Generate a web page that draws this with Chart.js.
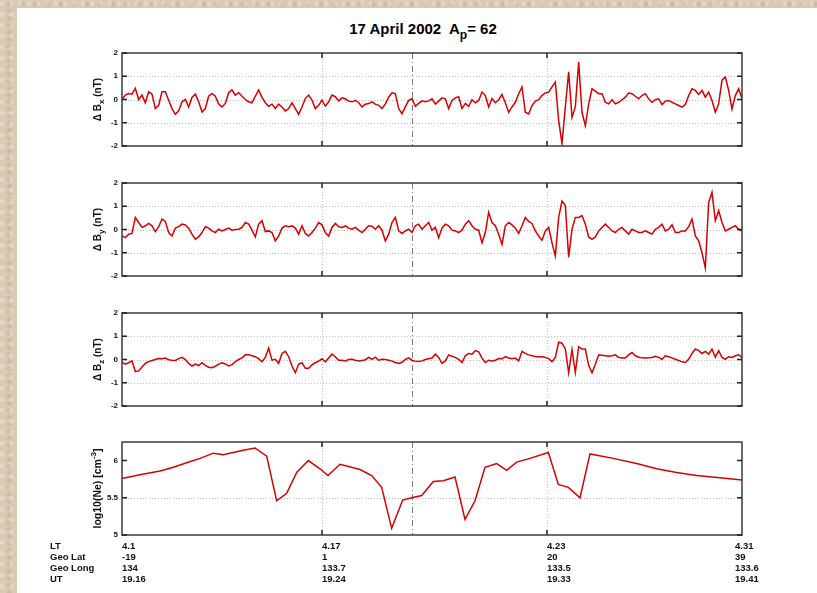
<!DOCTYPE html>
<html lang="en">
<head>
    <meta charset="UTF-8">
    <title>17 April 2002</title>
    <script src="https://cdn.jsdelivr.net/npm/chart.js@4.4.0/dist/chart.umd.min.js"></script>
    <style>
        body {
            margin: 0;
            width: 817px;
            height: 593px;
            overflow: hidden;
            position: relative;
            background-color: #d9cbb3;
            background-image:
                radial-gradient(circle at 20% 30%, rgba(255,255,255,0.25) 0 2px, transparent 3px),
                radial-gradient(circle at 70% 60%, rgba(120,100,70,0.15) 0 2px, transparent 3px);
            background-size: 9px 11px, 13px 7px;
        }
        .page {
            position: absolute;
            left: 17px;
            top: 8px;
            width: 800px;
            height: 585px;
            background: #fff;
        }
        .title {
            position: absolute;
            left: 113px;
            width: 620px;
            top: 20px;
            text-align: center;
            font: bold 15px "Liberation Sans", Arial, sans-serif;
            white-space: pre;
            color: #000;
        }
        .title sub {
            font-size: 12px;
            vertical-align: -5px;
            line-height: 0;
        }
        canvas {
            position: absolute;
            left: 0;
        }
    </style>
</head>

<body>
    <div class="page"></div>
    <div class="title">17 April 2002  A<sub>p</sub>= 62</div>
    <canvas id="cBx" width="817" height="113" style="top:43px"></canvas>
    <canvas id="cBy" width="817" height="113" style="top:173px"></canvas>
    <canvas id="cBz" width="817" height="113" style="top:303px"></canvas>
    <canvas id="cNe" width="817" height="161" style="top:432px"></canvas>
    <script>
        // x axis = sample number along the pass (0 .. 186)
        const tickIdx = [0, 60, 127.5, 186];
        const markIdx = 87; // dash-dot line between 4.17 and 4.23
        const ltLabels = ['4.1', '4.17', '4.23', '4.31'];
        const latLabels = ['-19', '1', '20', '39'];
        const longLabels = ['134', '133.7', '133.5', '133.6'];
        const utLabels = ['19.16', '19.24', '19.33', '19.41'];
        const rowNames = ['LT', 'Geo Lat', 'Geo Long', 'UT'];

        const bTicks = [-2, -1, 0, 1, 2];
        const neTicks = [5, 5.5, 6];

        // delta Bx (nT)
        const bx = [
            0.0, 0.19, 0.26, 0.23, 0.48, 0.0, 0.19, -0.14, 0.33, 0.23,
            -0.39, -0.25, 0.33, 0.33, -0.03, -0.39, -0.64, -0.49, -0.1, 0.0,
            -0.32, 0.09, 0.23, -0.1, -0.54, -0.39, 0.14, 0.26, 0.14, -0.2,
            -0.32, -0.17, 0.29, 0.41, 0.19, 0.29, 0.14, 0.0, -0.1, -0.14,
            0.14, 0.41, 0.09, -0.14, -0.29, -0.2, -0.39, -0.2, -0.32, -0.49,
            -0.39, -0.14, -0.39, -0.64, -0.32, 0.04, 0.19, -0.03, -0.39, -0.25,
            -0.03, -0.29, -0.1, 0.19, 0.12, -0.06, 0.07, 0.03, -0.07, -0.1,
            -0.04, -0.14, -0.32, -0.2, -0.17, -0.1, -0.2, -0.25, -0.39, -0.19,
            0.1, 0.29, 0.25, -0.39, -0.61, -0.32, -0.04, 0.03, -0.29, -0.17,
            -0.06, -0.1, -0.06, 0.03, -0.2, -0.07, 0.07, 0.03, -0.39, -0.04,
            0.07, 0.12, -0.39, -0.17, -0.29, -0.01, -0.14, -0.04, 0.32, 0.17,
            -0.32, 0.04, -0.14, -0.01, 0.22, -0.14, -0.55, -0.32, -0.12, 0.25,
            0.54, -0.55, -0.62, -0.26, -0.07, -0.01, 0.17, 0.28, 0.32, 0.54,
            0.75, -0.91, -1.9, -0.32, 1.19, -0.77, -0.32, 1.62, -0.55, -1.13,
            -0.19, 0.46, 0.36, 0.25, 0.25, -0.12, -0.19, -0.01, -0.19, -0.12,
            -0.01, 0.1, 0.28, 0.25, 0.14, 0.03, 0.17, 0.25, 0.03, -0.12,
            -0.01, 0.03, -0.22, -0.07, -0.04, -0.12, -0.19, -0.26, -0.33, -0.22,
            0.17, 0.46, 0.39, 0.22, 0.39, 0.1, 0.32, -0.04, -0.55, -0.19,
            0.83, 0.97, 0.39, -0.41, 0.17, 0.46, 0.03
        ];

        // delta By (nT)
        const by = [
            -0.28, -0.35, -0.2, -0.17, 0.52, 0.3, 0.09, 0.16, 0.26, 0.16,
            -0.09, 0.12, 0.45, 0.35, -0.13, -0.28, 0.06, 0.12, 0.23, 0.2,
            0.06, -0.2, -0.42, -0.32, -0.13, 0.12, 0.06, -0.06, -0.13, 0.01,
            -0.06, 0.0, 0.06, -0.03, 0.0, 0.01, 0.09, 0.3, 0.23, -0.03,
            -0.32, 0.23, 0.38, -0.09, -0.06, -0.13, -0.49, -0.28, 0.06, 0.16,
            0.12, 0.16, 0.06, -0.2, 0.16, -0.17, -0.28, -0.13, 0.06, 0.3,
            0.2, -0.13, -0.28, 0.09, 0.26, 0.12, 0.09, 0.16, 0.06, 0.01,
            0.09, -0.03, -0.13, 0.01, 0.16, 0.14, 0.01, 0.16, -0.03, -0.49,
            -0.2, 0.3, 0.52, -0.06, -0.17, -0.06, 0.01, -0.13, 0.16, 0.23,
            0.01, 0.16, 0.3, -0.03, 0.09, -0.35, 0.06, 0.23, 0.16, -0.03,
            -0.06, -0.13, -0.03, 0.23, 0.38, 0.16, 0.01, -0.03, -0.57, -0.13,
            0.74, 0.3, 0.16, -0.2, -0.64, 0.16, 0.3, 0.2, 0.06, -0.17,
            0.16, 0.52, 0.35, 0.26, -0.06, -0.28, -0.46, -0.06, 0.09, -0.57,
            -1.14, 0.52, 1.22, 1.03, -1.2, 0.01, 0.52, 0.52, 0.6, 0.23,
            -0.32, -0.42, -0.32, -0.06, 0.09, 0.23, 0.09, -0.06, -0.13, 0.01,
            0.09, -0.06, -0.2, 0.01, -0.06, -0.13, -0.13, -0.06, -0.13, -0.2,
            0.01, 0.09, 0.23, -0.06, 0.01, 0.2, -0.13, -0.13, -0.06, -0.06,
            0.12, 0.45, -0.28, -0.49, -1.0, -1.65, 1.17, 1.6, 0.38, 0.81,
            0.3, -0.06, 0.01, 0.09, 0.16, 0.01, -0.06
        ];

        // delta Bz (nT)
        const bz = [
            -0.13, -0.2, -0.14, -0.06, -0.52, -0.49, -0.32, -0.17, -0.09, -0.04,
            0.0, 0.04, 0.03, 0.06, -0.01, -0.03, -0.04, 0.04, 0.09, 0.0,
            -0.17, -0.28, -0.2, -0.26, -0.14, -0.25, -0.33, -0.35, -0.29, -0.2,
            -0.14, -0.19, -0.28, -0.22, -0.09, 0.0, 0.07, 0.2, 0.2, 0.16,
            0.12, 0.03, -0.09, 0.09, 0.49, -0.03, 0.01, -0.17, 0.26, 0.35,
            0.12, -0.28, -0.57, -0.2, -0.14, -0.38, -0.38, -0.23, -0.14, -0.07,
            0.03, -0.1, 0.06, 0.23, 0.12, -0.03, -0.03, -0.06, 0.0, 0.01,
            -0.03, -0.06, -0.04, -0.01, 0.09, 0.01, 0.1, -0.03, 0.01, 0.0,
            -0.03, -0.07, -0.13, -0.17, -0.12, 0.0, 0.07, -0.03, -0.07, -0.09,
            -0.06, 0.0, 0.03, 0.06, 0.23, 0.09, -0.17, -0.06, 0.2, 0.14,
            0.09, 0.01, -0.13, 0.16, 0.26, 0.23, 0.38, 0.33, 0.06, -0.13,
            -0.03, -0.06, -0.03, 0.04, 0.03, 0.12, 0.06, 0.03, 0.06, -0.06,
            0.35, 0.26, 0.2, 0.16, 0.13, 0.12, 0.12, 0.09, 0.04, -0.09,
            0.09, 0.74, 0.7, 0.45, -0.57, 0.42, -0.55, 0.55, 0.45, 0.45,
            -0.25, -0.57, -0.2, 0.2, 0.18, 0.16, 0.14, 0.16, 0.2, 0.09,
            0.06, 0.06, 0.2, 0.3, 0.16, 0.1, 0.07, 0.06, 0.07, 0.09,
            0.14, 0.09, 0.01, 0.16, 0.12, 0.07, 0.01, -0.04, -0.1, -0.13,
            0.01, 0.26, 0.45, 0.38, 0.26, 0.35, 0.23, 0.45, 0.1, 0.38,
            0.09, 0.01, 0.12, 0.09, 0.16, 0.2, 0.09
        ];

        // log10(Ne) samples (coarser, with their own positions)
        const neIdx = [
            0, 5.4, 11.4, 15.4, 19.4, 23.4, 27.4, 30.4, 33.4, 36.4,
            39.9, 43.4, 46.4, 49.4, 52.4, 55.9, 59.4, 61.8, 65.4, 71.4,
            74.9, 77.9, 80.9, 84.2, 86.9, 89.9, 93.4, 96.4, 99.9, 102.9,
            105.9, 108.9, 112.4, 115.4, 118.4, 122.4, 127.9, 130.9, 133.9, 137.4,
            140.4, 147.4, 154.4, 160.4, 166.4, 172.4, 179.4, 186
        ];
        const neVals = [
            5.76, 5.81, 5.86, 5.91, 5.97, 6.03, 6.10, 6.08, 6.11, 6.14,
            6.17, 6.06, 5.46, 5.56, 5.84, 6.00, 5.89, 5.80, 5.95, 5.88,
            5.80, 5.64, 5.09, 5.47, 5.50, 5.53, 5.72, 5.73, 5.78, 5.21,
            5.46, 5.91, 5.96, 5.87, 5.98, 6.03, 6.11, 5.68, 5.64, 5.50,
            6.09, 6.03, 5.96, 5.89, 5.84, 5.80, 5.77, 5.74
        ];

        const FONT = '"Liberation Sans", Arial, sans-serif';

        // MATLAB-like box, inward ticks, dotted grid, rotated y title, bottom label rows
        const frame = {
            id: 'frame',
            beforeDatasetsDraw(chart, args, opts) {
                const ctx = chart.ctx;
                const a = chart.chartArea;
                const xs = chart.scales.x, ys = chart.scales.y;
                ctx.save();
                ctx.lineWidth = 1;
                ctx.strokeStyle = '#bdbdbd';
                ctx.setLineDash([1, 2]);
                opts.yTicks.slice(1, -1).forEach(v => {
                    const y = Math.round(ys.getPixelForValue(v)) + 0.5;
                    ctx.beginPath(); ctx.moveTo(a.left, y); ctx.lineTo(a.right, y); ctx.stroke();
                });
                tickIdx.slice(1, -1).forEach(v => {
                    const x = Math.round(xs.getPixelForValue(v)) + 0.5;
                    ctx.beginPath(); ctx.moveTo(x, a.top); ctx.lineTo(x, a.bottom); ctx.stroke();
                });
                ctx.strokeStyle = '#7a7a7a';
                ctx.setLineDash([6, 3, 1, 3]);
                const mx = Math.round(xs.getPixelForValue(markIdx)) + 0.5;
                ctx.beginPath(); ctx.moveTo(mx, a.top); ctx.lineTo(mx, a.bottom); ctx.stroke();
                ctx.restore();
            },
            afterDatasetsDraw(chart, args, opts) {
                const ctx = chart.ctx;
                const a = chart.chartArea;
                const xs = chart.scales.x, ys = chart.scales.y;
                ctx.save();
                ctx.strokeStyle = '#3c3c3c';
                ctx.lineWidth = 1.5;
                ctx.strokeRect(a.left, a.top, a.right - a.left, a.bottom - a.top);
                ctx.strokeStyle = '#222';
                ctx.lineWidth = 1.5;
                opts.yTicks.forEach(v => {
                    const y = ys.getPixelForValue(v);
                    ctx.beginPath();
                    ctx.moveTo(a.left, y); ctx.lineTo(a.left + 5, y);
                    ctx.moveTo(a.right, y); ctx.lineTo(a.right - 5, y);
                    ctx.stroke();
                });
                tickIdx.slice(1, -1).forEach(v => {
                    const x = xs.getPixelForValue(v);
                    ctx.beginPath();
                    ctx.moveTo(x, a.top); ctx.lineTo(x, a.top + 5);
                    ctx.moveTo(x, a.bottom); ctx.lineTo(x, a.bottom - 5);
                    ctx.stroke();
                });

                // rotated y-axis title with sub/superscript pieces
                const parts = opts.title;
                const size = opts.titleSize;
                const big = 'bold ' + size + 'px ' + FONT;
                const small = 'bold ' + Math.round(size * 0.75) + 'px ' + FONT;
                let total = 0;
                parts.forEach(p => { ctx.font = p.s ? small : big; total += ctx.measureText(p.t).width; });
                ctx.translate(97, (a.top + a.bottom) / 2);
                ctx.rotate(-Math.PI / 2);
                ctx.fillStyle = '#111';
                ctx.textBaseline = 'alphabetic';
                ctx.textAlign = 'left';
                let x = -total / 2;
                parts.forEach(p => {
                    ctx.font = p.s ? small : big;
                    const dy = p.s === 'sub' ? 3 : (p.s === 'sup' ? -5 : 0);
                    ctx.fillText(p.t, x, 4 + dy);
                    x += ctx.measureText(p.t).width;
                });
                ctx.restore();

                if (opts.rows) {
                    ctx.save();
                    ctx.fillStyle = '#111';
                    ctx.font = 'bold 9.5px ' + FONT;
                    ctx.textBaseline = 'middle';
                    ctx.textAlign = 'left';
                    const cols = [ltLabels, latLabels, longLabels, utLabels];
                    rowNames.forEach((name, r) => {
                        const y = a.bottom + 11 + r * 11;
                        ctx.fillText(name, 50, y);
                        tickIdx.forEach((v, k) => {
                            const px = Math.min(xs.getPixelForValue(v), a.right - 7);
                            ctx.fillText(cols[r][k], px, y);
                        });
                    });
                    ctx.restore();
                }
            }
        };

        function makePanel(id, points, yMin, yMax, yTicks, title, titleSize, rows, padBottom) {
            return new Chart(document.getElementById(id), {
                type: 'line',
                data: {
                    datasets: [{
                        data: points,
                        borderColor: '#d60000',
                        borderWidth: 1.5,
                        pointRadius: 0,
                        tension: 0,
                        fill: false
                    }]
                },
                options: {
                    responsive: false,
                    animation: false,
                    layout: { padding: { left: 0, right: 75, top: 10, bottom: padBottom } },
                    plugins: {
                        legend: { display: false },
                        tooltip: { enabled: false },
                        frame: { yTicks: yTicks, title: title, titleSize: titleSize, rows: rows }
                    },
                    scales: {
                        x: {
                            type: 'linear', min: 0, max: 186,
                            display: false
                        },
                        y: {
                            type: 'linear', min: yMin, max: yMax,
                            afterBuildTicks: s => { s.ticks = yTicks.map(v => ({ value: v })); },
                            afterFit: s => { s.width = 122; },
                            grid: { display: false, drawTicks: false },
                            border: { display: false },
                            ticks: {
                                color: '#111',
                                padding: 4,
                                font: { family: FONT, size: 8, weight: 'bold' },
                                callback: v => String(v)
                            }
                        }
                    }
                },
                plugins: [frame]
            });
        }

        const asPoints = arr => arr.map((v, i) => ({ x: i, y: v }));

        makePanel('cBx', asPoints(bx), -2, 2, bTicks,
            [{ t: '\u0394 B' }, { t: 'x', s: 'sub' }, { t: ' (nT)' }], 10, false, 10);
        makePanel('cBy', asPoints(by), -2, 2, bTicks,
            [{ t: '\u0394 B' }, { t: 'y', s: 'sub' }, { t: ' (nT)' }], 10, false, 10);
        makePanel('cBz', asPoints(bz), -2, 2, bTicks,
            [{ t: '\u0394 B' }, { t: 'z', s: 'sub' }, { t: ' (nT)' }], 10, false, 10);
        makePanel('cNe', neIdx.map((v, i) => ({ x: v, y: neVals[i] })), 5, 6.25, neTicks,
            [{ t: 'log10(Ne) [cm' }, { t: '-3', s: 'sup' }, { t: ']' }], 10.5, true, 58);
    </script>
</body>
</html>
